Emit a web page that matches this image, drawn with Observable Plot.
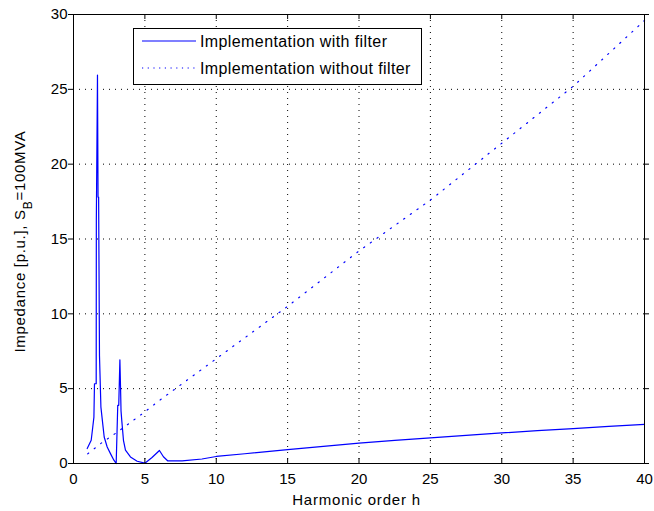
<!DOCTYPE html>
<html><head><meta charset="utf-8">
<script src="https://cdn.jsdelivr.net/npm/d3@7"></script>
<script src="https://cdn.jsdelivr.net/npm/@observablehq/plot@0.6"></script>
<style>body{margin:0;background:#fff} svg{font-family:"Liberation Sans",Arial,sans-serif}</style>
</head><body><div id="chart"></div>
<script>
// Harmonic order / impedance, implementation WITH filter
const filterH = [0.96,1.24,1.35,1.43,1.47,1.59,1.60,1.68,1.72,1.76,1.82,1.92,2.06,2.15,2.36,2.59,2.83,2.99,3.10,3.17,3.25,3.30,3.33,3.39,3.50,3.64,3.99,4.46,5.00,5.50,6.02,6.30,6.61,7.61,9,10,12,15,17.5,20,22.5,25,27.5,30,32.5,35,37.5,40];
const filterZ = [1.00,1.55,2.44,3.10,5.33,5.33,16.3,25.95,17.8,17.8,7.22,3.77,2.55,1.77,1.10,0.66,0.22,0.00,3.89,3.89,6.93,4.89,3.50,2.78,1.55,0.89,0.44,0.15,0.02,0.40,0.87,0.45,0.17,0.17,0.30,0.47,0.65,0.93,1.15,1.36,1.54,1.71,1.88,2.04,2.19,2.33,2.48,2.62];
// implementation WITHOUT filter
const noFilterH = [1,2,3,4,5,6,7,8,9,10,15,20,25,30,35,40];
const noFilterZ = [0.65,1.40,2.05,2.75,3.45,4.20,4.90,5.60,6.30,7.00,10.5,14.2,17.6,21.4,25.2,29.6];

const xTicks = [0,5,10,15,20,25,30,35,40];
const yTicks = [0,5,10,15,20,25,30];
const seriesNames = ["Implementation with filter","Implementation without filter"];
const xLabel = "Harmonic order h";
const yLabelMain = "Impedance [p.u.], S";
const yLabelSub = "B";
const yLabelRest = "=100MVA";

const withF = filterH.map((h,i)=>({h, z: filterZ[i]}));
const noF = noFilterH.map((h,i)=>({h, z: noFilterZ[i]}));

const blue = "#0000ff";
const dotted = "1.2,7";

function yLabelMark(index, scales, values, dims) {
  const g = d3.create("svg:g");
  const cy = (dims.marginTop + dims.height - dims.marginBottom)/2 + 3;
  const t = g.append("text")
    .attr("transform", `translate(25,${cy}) rotate(-90)`)
    .attr("text-anchor","middle").attr("font-size",15).attr("letter-spacing","0.7px").attr("fill","#000");
  t.append("tspan").text(yLabelMain);
  t.append("tspan").attr("dy", 7).attr("font-size", 12).text(yLabelSub);
  t.append("tspan").attr("dy", -7).attr("font-size", 15).text(yLabelRest);
  return g.node();
}

function xLabelMark(index, scales, values, dims) {
  const g = d3.create("svg:g");
  const cx = (dims.marginLeft + dims.width - dims.marginRight)/2 - 2;
  g.append("text").attr("x", cx).attr("y", dims.height - dims.marginBottom + 42)
    .attr("text-anchor","middle").attr("font-size",15).attr("letter-spacing","0.8px")
    .attr("fill","#000").text(xLabel);
  return g.node();
}

function legendMark(index, scales, values, dims) {
  const g = d3.create("svg:g");
  const x0 = dims.marginLeft + 60, y0 = dims.marginTop + 14;
  const w = 288, h = 56;
  g.append("rect").attr("x", x0+0.5).attr("y", y0+0.5).attr("width", w).attr("height", h)
    .attr("fill","#fff").attr("stroke","#000");
  const rows = [{y: y0+13, dash: null}, {y: y0+40, dash: "1.2,4.5"}];
  rows.forEach((r,i) => {
    const l = g.append("line").attr("x1", x0+9).attr("x2", x0+63).attr("y1", r.y).attr("y2", r.y)
      .attr("stroke", blue).attr("stroke-width", 1.2).attr("fill","none");
    if (r.dash) l.attr("stroke-dasharray", r.dash);
    g.append("text").attr("x", x0+67).attr("y", r.y).attr("dy","0.36em")
      .attr("text-anchor","start")
      .attr("font-size",16).attr("letter-spacing","0.4px").attr("fill","#000").text(seriesNames[i]);
  });
  return g.node();
}

const chart = Plot.plot({
  width: 654, height: 511,
  marginLeft: 73, marginRight: 10, marginTop: 14, marginBottom: 48,
  style: {fontFamily: '"Liberation Sans", Arial, sans-serif', fontSize: "15px", background: "#fff", color: "#000"},
  x: {domain: [0,40]},
  y: {domain: [0,30]},
  marks: [
    Plot.ruleX(xTicks.slice(1,-1), {stroke: "#000", strokeDasharray: "1,5", strokeWidth: 1}),
    Plot.ruleY(yTicks.slice(1,-1), {stroke: "#000", strokeDasharray: "1,5", strokeWidth: 1}),
    Plot.line(noF, {x: "h", y: "z", stroke: blue, strokeWidth: 1.2, strokeDasharray: dotted}),
    Plot.line(withF, {x: "h", y: "z", stroke: blue, strokeWidth: 1.2}),
    // inward ticks on all four sides
    Plot.ruleX(xTicks, {y1: yTicks[0], y2: yTicks[0], insetBottom: 5, stroke: "#000"}),
    Plot.ruleX(xTicks, {y1: yTicks[yTicks.length-1], y2: yTicks[yTicks.length-1], insetTop: 5, stroke: "#000"}),
    Plot.ruleY(yTicks, {x1: xTicks[0], x2: xTicks[0], insetRight: 5, stroke: "#000"}),
    Plot.ruleY(yTicks, {x1: xTicks[xTicks.length-1], x2: xTicks[xTicks.length-1], insetLeft: 5, stroke: "#000"}),
    Plot.frame({stroke: "#000"}),
    Plot.axisX(xTicks, {tickSize: 0, tickPadding: 10, label: null, fontSize: 15}),
    Plot.axisY(yTicks, {tickSize: 0, tickPadding: 6, label: null, fontSize: 15}),
    xLabelMark,
    yLabelMark,
    legendMark
  ]
});
document.getElementById("chart").appendChild(chart);
</script>
</body></html>
